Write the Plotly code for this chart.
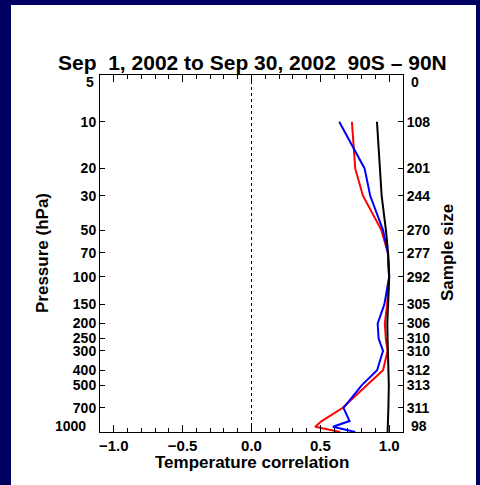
import math
import plotly.graph_objects as go

# ---- data ----
levels = [10, 20, 30, 50, 70, 100, 150, 200, 250, 300, 400, 500, 700, 850, 925, 1000]
corr_black = [0.911, 0.930, 0.945, 0.976, 0.992, 1.000, 0.990, 0.986, 0.988, 0.990,
              0.998, 0.997, 0.994, 0.992, 0.990, 0.988]
corr_red = [0.729, 0.753, 0.809, 0.943, 0.990, 0.999, 0.985, 0.968, 0.975, 0.988,
            0.955, 0.840, 0.660, 0.510, 0.462, 0.644]
corr_blue = [0.637, 0.821, 0.862, 0.955, 0.990, 0.999, 0.965, 0.916, 0.923, 0.955,
             0.912, 0.800, 0.668, 0.712, 0.591, 0.753]

tick_pressures = [5, 10, 20, 30, 50, 70, 100, 150, 200, 250, 300, 400, 500, 700, 1000]
sample_sizes = [0, 108, 201, 244, 270, 277, 292, 305, 306, 310, 310, 312, 313, 311, 98]
x_ticks = [-1.0, -0.5, 0.0, 0.5, 1.0]
x_ticktext = ["\u22121.0", "\u22120.5", "0.0", "0.5", "1.0"]

title_text = "Sep\u00a0\u00a01, 2002 to Sep 30, 2002\u00a0\u00a090S \u2013 90N"

FONT = "Liberation Sans, Arial, Helvetica, sans-serif"
NAVY = "#000062"

# pixel geometry helpers
L, R, T, B = 100, 77, 75, 53
W, H = 480, 485
PW, PH = W - L - R, H - T - B


def px_to_paper_x(px):
    return (px - L) / PW


def py_to_paper_y(py):
    return (H - B - py) / PH


fig = go.Figure()

fig.add_trace(go.Scatter(x=corr_red, y=levels, mode="lines",
                         line=dict(color="#ff0000", width=2), showlegend=False))
fig.add_trace(go.Scatter(x=corr_blue, y=levels, mode="lines",
                         line=dict(color="#0000ff", width=2), showlegend=False))
fig.add_trace(go.Scatter(x=corr_black, y=levels, mode="lines",
                         line=dict(color="#000000", width=2), showlegend=False))
# carrier trace for the right-hand axis
fig.add_trace(go.Scatter(x=corr_black, y=levels, mode="lines", yaxis="y2",
                         line=dict(color="rgba(0,0,0,0)", width=0),
                         showlegend=False, hoverinfo="skip"))

left_text = [str(p) for p in tick_pressures]
left_text[0] = ""
left_text[-1] = ""
right_text = [str(s) for s in sample_sizes]
right_text[0] = ""
right_text[-1] = ""

# reversed log range: 1000 hPa at the bottom, 5 hPa at the top
yr = [math.log10(1000), math.log10(5)]

ytickfont = dict(family=FONT, size=14, color="black", weight="bold")
xtickfont = dict(family=FONT, size=15, color="black", weight="bold")

fig.update_layout(
    width=W, height=H,
    margin=dict(l=L, r=R, t=T, b=B, pad=0),
    paper_bgcolor=NAVY,
    plot_bgcolor="white",
    showlegend=False,
    font=dict(family=FONT, color="black"),
    xaxis=dict(
        range=[-1.1, 1.1], tickvals=x_ticks, ticktext=x_ticktext,
        ticks="inside", ticklen=7, tickwidth=1, tickcolor="black",
        showline=True, linecolor="black", linewidth=1, mirror="ticks",
        showgrid=False, zeroline=False, tickfont=xtickfont,
        minor=dict(dtick=0.1, tick0=0, ticks="inside", ticklen=4,
                   tickcolor="black", showgrid=False),
    ),
    yaxis=dict(
        type="log", range=yr, tickvals=tick_pressures, ticktext=left_text,
        ticks="inside", ticklen=5, tickcolor="black",
        showline=True, linecolor="black", linewidth=1,
        showgrid=False, zeroline=False, tickfont=ytickfont,
    ),
    yaxis2=dict(
        type="log", range=yr, tickvals=tick_pressures, ticktext=right_text,
        overlaying="y", side="right",
        ticks="inside", ticklen=5, tickcolor="black",
        showline=True, linecolor="black", linewidth=1,
        showgrid=False, zeroline=False, tickfont=ytickfont,
    ),
)

# white page inside the navy frame
fig.add_shape(type="rect", xref="paper", yref="paper", layer="below",
              x0=px_to_paper_x(11), x1=px_to_paper_x(476),
              y0=py_to_paper_y(486), y1=py_to_paper_y(5),
              fillcolor="white", line=dict(width=0))
# dotted zero line
fig.add_shape(type="line", xref="x", yref="paper", x0=0, x1=0, y0=0, y1=1,
              line=dict(color="black", width=1, dash="dot"))

ann = []
ann.append(dict(text=title_text, x=px_to_paper_x(252), y=py_to_paper_y(63),
                xref="paper", yref="paper", showarrow=False,
                xanchor="center", yanchor="middle",
                font=dict(family=FONT, size=21, color="black", weight="bold")))
ann.append(dict(text="Pressure (hPa)", x=px_to_paper_x(42), y=py_to_paper_y(253),
                xref="paper", yref="paper", showarrow=False, textangle=-90,
                xanchor="center", yanchor="middle",
                font=dict(family=FONT, size=17, color="black", weight="bold")))
ann.append(dict(text="Sample size", x=px_to_paper_x(447), y=py_to_paper_y(253),
                xref="paper", yref="paper", showarrow=False, textangle=-90,
                xanchor="center", yanchor="middle",
                font=dict(family=FONT, size=17, color="black", weight="bold")))
ann.append(dict(text="Temperature correlation", x=px_to_paper_x(252),
                y=py_to_paper_y(462), xref="paper", yref="paper", showarrow=False,
                xanchor="center", yanchor="middle",
                font=dict(family=FONT, size=17, color="black", weight="bold")))
# edge tick labels (shifted inward like the original)
edge = [
    (str(tick_pressures[0]), 96, 81.5, "right"),
    (str(tick_pressures[-1]), 88, 426, "right"),
    (str(sample_sizes[0]), 409, 81.5, "left"),
    (str(sample_sizes[-1]), 409, 426, "left"),
]
for txt, px, py, xa in edge:
    ann.append(dict(text=txt, x=px_to_paper_x(px), y=py_to_paper_y(py),
                    xref="paper", yref="paper", showarrow=False,
                    xanchor=xa, yanchor="middle",
                    font=dict(family=FONT, size=14, color="black", weight="bold")))
fig.update_layout(annotations=ann)

fig.write_html("out.html")
